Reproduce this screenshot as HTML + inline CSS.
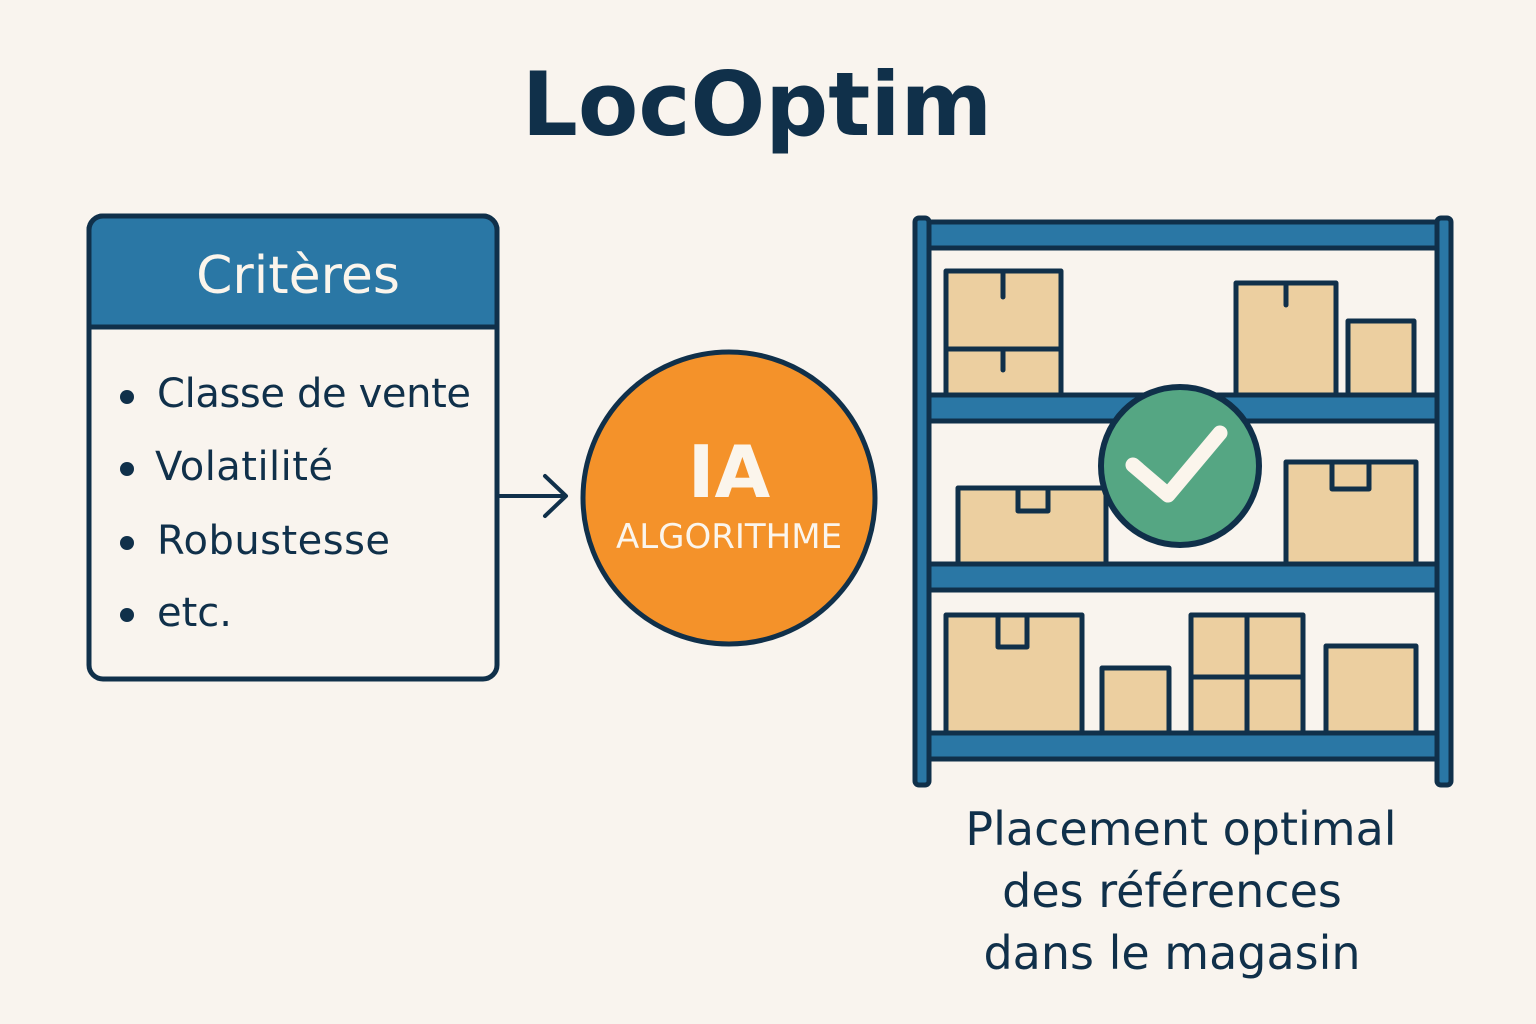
<!DOCTYPE html>
<html><head><meta charset="utf-8"><style>
html,body{margin:0;padding:0;background:#f9f4ee;}
svg{display:block}
text{font-family:"DejaVu Sans","Liberation Sans",sans-serif;}
</style></head><body>
<svg width="1536" height="1024" viewBox="0 0 1536 1024" xmlns="http://www.w3.org/2000/svg">
<rect width="1536" height="1024" fill="#f9f4ee"/>
<text x="757" y="135" text-anchor="middle" font-size="88" font-weight="bold" fill="#10304a">LocOptim</text>

<!-- Criteria card -->
<rect x="89" y="216" width="408" height="463" rx="14" fill="#f9f4ee" stroke="#10304a" stroke-width="5"/>
<path d="M103 216 H483 A14 14 0 0 1 497 230 V327 H89 V230 A14 14 0 0 1 103 216 Z" fill="#2a77a5" stroke="#10304a" stroke-width="5"/>
<text x="298" y="293" text-anchor="middle" font-size="52" fill="#fbf5ec">Critères</text>
<g fill="#10304a" font-size="40">
<circle cx="127" cy="397" r="7"/><text x="157" y="407" textLength="314">Classe de vente</text>
<circle cx="127" cy="469" r="7"/><text x="155" y="480" textLength="178">Volatilité</text>
<circle cx="127" cy="543" r="7"/><text x="157" y="554" textLength="233">Robustesse</text>
<circle cx="127" cy="615" r="7"/><text x="157" y="626">etc.</text>
</g>

<!-- arrow -->
<path d="M498 496 H565 M545 476 L566 496 L545 516" fill="none" stroke="#10304a" stroke-width="4" stroke-linecap="round" stroke-linejoin="round"/>

<!-- IA circle -->
<circle cx="729" cy="498" r="146" fill="#f4922a" stroke="#10304a" stroke-width="5"/>
<text x="729" y="497" text-anchor="middle" font-size="72" font-weight="bold" fill="#fbf5ec">IA</text>
<text x="729" y="548" text-anchor="middle" font-size="34" fill="#fbf5ec">ALGORITHME</text>

<!-- shelf -->
<g stroke="#10304a" stroke-width="5" stroke-linejoin="round">
<rect x="915" y="218" width="14" height="567" rx="4" fill="#2a77a5"/>
<rect x="1437" y="218" width="14" height="567" rx="4" fill="#2a77a5"/>
<rect x="929" y="222" width="508" height="26" fill="#2a77a5"/>
<rect x="929" y="395" width="508" height="26" fill="#2a77a5"/>
<rect x="929" y="564" width="508" height="26" fill="#2a77a5"/>
<rect x="929" y="733" width="508" height="26" fill="#2a77a5"/>

<g fill="#eccfa0">
<rect x="946" y="271" width="115" height="124"/>
<line x1="946" y1="349" x2="1061" y2="349"/>
<rect x="1236" y="283" width="100" height="112"/>
<rect x="1348" y="321" width="66" height="74"/>
<rect x="958" y="488" width="148" height="76"/>
<rect x="1018" y="488" width="30" height="23"/>
<rect x="1286" y="462" width="130" height="102"/>
<rect x="1332" y="462" width="37" height="27"/>
<rect x="946" y="615" width="136" height="118"/>
<rect x="998" y="615" width="29" height="32"/>
<rect x="1102" y="668" width="67" height="65"/>
<rect x="1191" y="615" width="112" height="118"/>
<line x1="1247" y1="615" x2="1247" y2="733"/>
<line x1="1191" y1="677" x2="1303" y2="677"/>
<rect x="1326" y="646" width="90" height="87"/>
</g>
<g stroke-linecap="round" fill="none">
<line x1="1003" y1="271" x2="1003" y2="297"/>
<line x1="1003" y1="349" x2="1003" y2="370"/>
<line x1="1286" y1="283" x2="1286" y2="305"/>
</g>
<circle cx="1180" cy="466" r="79" fill="#55a683" stroke-width="6"/>
</g>
<path d="M1133 465 L1168 495 L1220 433" fill="none" stroke="#fbf5ec" stroke-width="15" stroke-linecap="round" stroke-linejoin="round"/>

<g fill="#10304a" font-size="46" text-anchor="middle">
<text x="1181" y="845">Placement optimal</text>
<text x="1172" y="907">des références</text>
<text x="1172" y="969">dans le magasin</text>
</g>
</svg>
</body></html>
